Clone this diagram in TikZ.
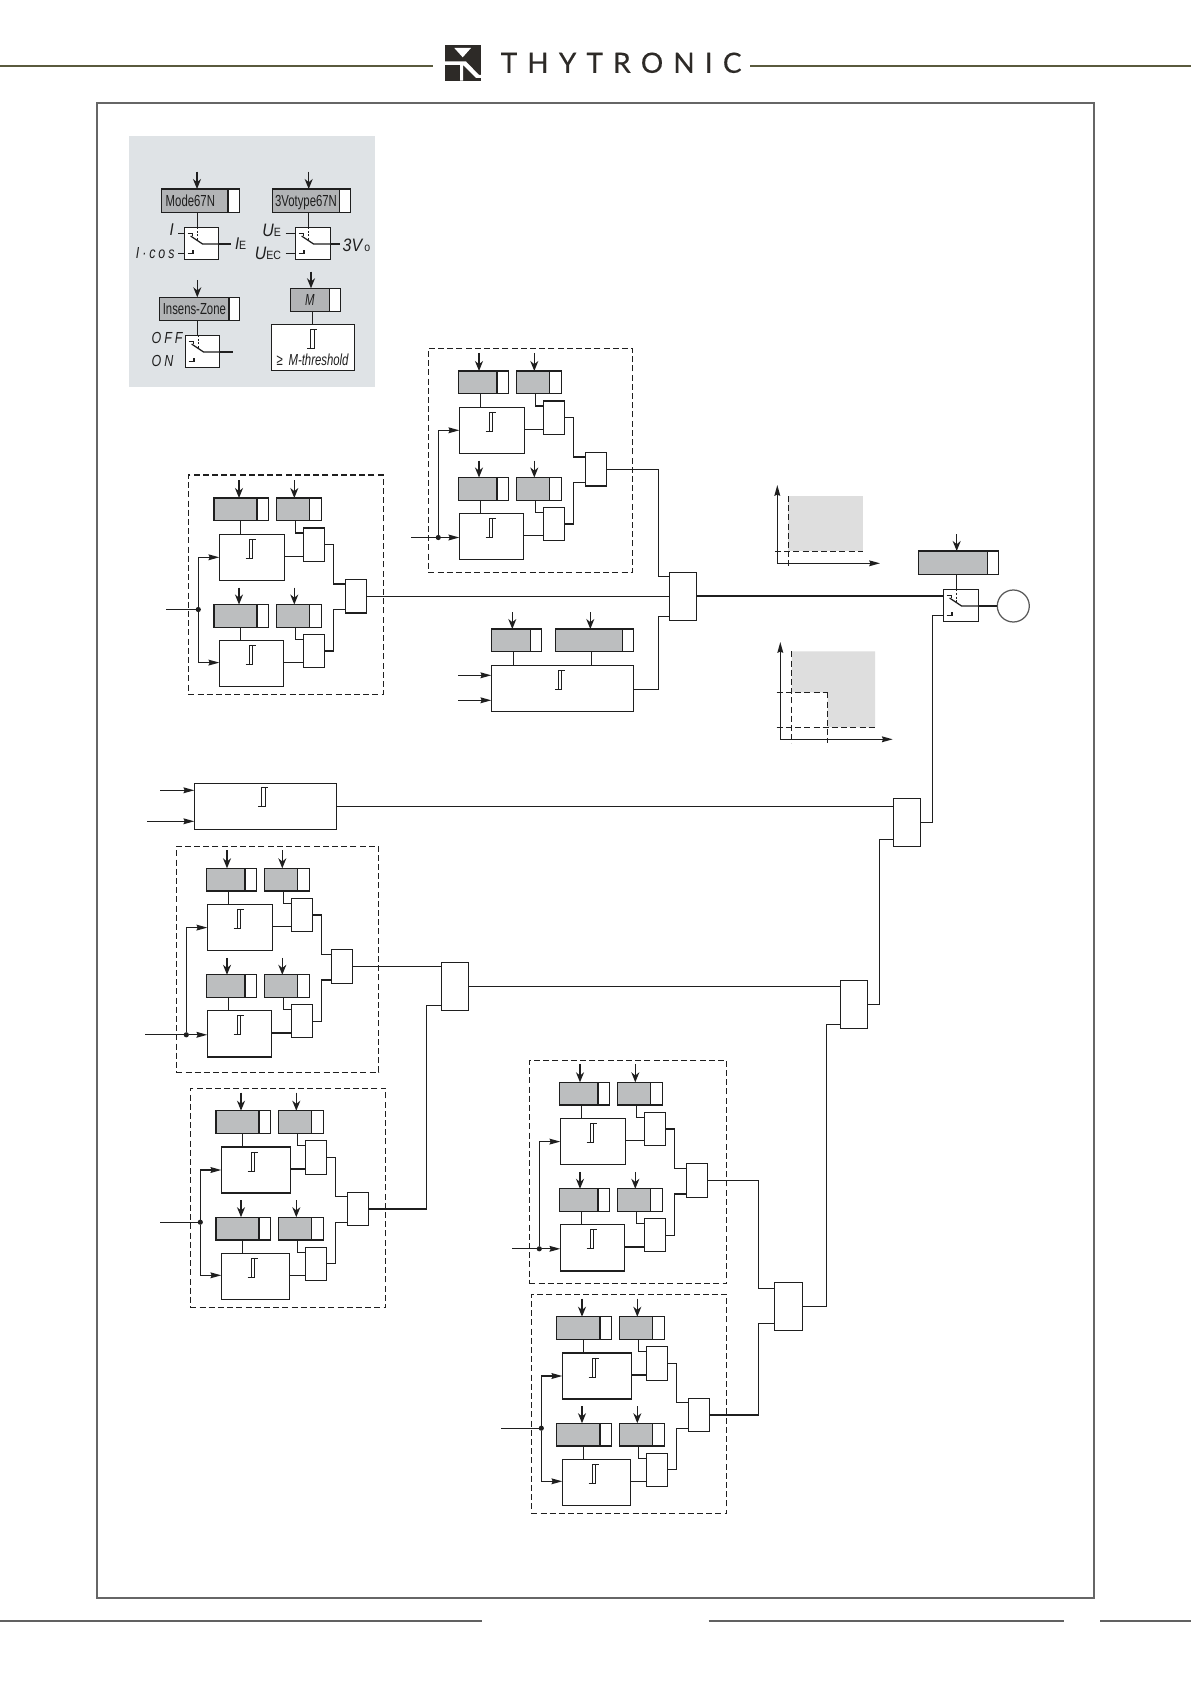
\documentclass[tikz,border=0pt]{standalone}
\usepackage{fontspec}
\setmainfont{Liberation Sans}
\newfontfamily\narrowf[FakeStretch=0.71]{Liberation Sans}
\newfontfamily\spacef[FakeStretch=0.78,LetterSpace=18]{Liberation Sans}
\newfontfamily\tightf[FakeStretch=0.88]{Liberation Sans}
\newfontfamily\logof[FakeBold=0.35]{Lato}
\usetikzlibrary{arrows.meta}
\definecolor{ink}{HTML}{1F1F1F}
\definecolor{setgray}{HTML}{BCBEBF}
\definecolor{leggray}{HTML}{B2B4B6}
\definecolor{headline}{HTML}{5A5A3E}
\tikzset{
  x=0.5pt,y=-0.5pt,
  line/.style={draw=ink,line width=0.62pt},
  wire/.style={line,line join=miter},
  arrv/.style={line,-{Stealth[length=5pt,width=4pt,inset=1.6pt]}},
  arrh/.style={line,-{Stealth[length=5.4pt,width=2.9pt,inset=0.6pt]}},
  blk/.style={line,fill=white,inner sep=0pt,outer sep=0pt,anchor=north west},
  graybox/.style={blk,fill=setgray},
  leggraybox/.style={blk,fill=leggray,text=ink,text height=5.8pt,text depth=0pt,font=\narrowf\fontsize{8}{8}\selectfont},
  dashbox/.style={line,inner sep=0pt,outer sep=0pt,anchor=north west,dash pattern=on 3pt off 1.6pt},
  dashl/.style={line,dash pattern=on 3pt off 1.6pt},
  dot/.style={circle,fill=ink,inner sep=0pt,outer sep=0pt,minimum size=2.6pt},
  lab/.style={inner sep=0pt,outer sep=0pt,text=ink},
  hy/.style={draw=ink,line width=0.42pt},
  frame/.style={draw=black!60,line width=1pt},
  foot/.style={draw=black!62,line width=1pt},
  head/.style={draw=headline,line width=0.55pt}
}
\newcommand{\nbox}[6][blk]{\node[#1,minimum width={(#5-(#3))*0.5pt},minimum height={(#6-(#4))*0.5pt}] (#2) at ({#3},{#4}) {};}
\newcommand{\nboxt}[7][blk]{\node[#1,minimum width={(#5-(#3))*0.5pt},minimum height={(#6-(#4))*0.5pt}] (#2) at ({#3},{#4}) {#7};}
% hysteresis symbol at left/top
\newcommand{\hyst}[2]{\draw[hy] ({#1},{#2+19.3}) -- ++(6.7,0) -- ++(0,-19.3) -- ++(3.3,0) ++(-3.3,0) -- ++(-3.4,0) -- ++(0,19.3);}
% switch box: {name}{x}{y}{w}{h}
\newcommand{\swt}[5]{%
  \nbox{#1}{#2}{#3}{#2+#4}{#3+#5}
  \begin{scope}[shift={(#2,#3)}]
    \draw[line] (3.3,6) -- (8.3,6) -- (8.3,9);
    \draw[line] (6.3,8.7) -- (18.3,16.7) -- (#4,16.7);
    \draw[line] (3.3,26) -- (8.8,26) -- (8.8,22.6);
    \draw[line,dash pattern=on 1pt off 0.8pt] (13,0) -- (13,13);
  \end{scope}}
% module: {prefix}{bx}{y0}{s1 left offset}{block w}{input x}{type}{or offset}
\newcommand{\mdl}[8]{%
  \nbox[graybox]{#1-s1}{#2-#4}{#3}{#2+37.7}{#3+22.8}
  \nbox{#1-s1w}{#2+37.7}{#3}{#2+49.2}{#3+22.8}
  \nbox[graybox]{#1-s2}{#2+57}{#3}{#2+90.3}{#3+22.8}
  \nbox{#1-s2w}{#2+90.3}{#3}{#2+102}{#3+22.8}
  \nbox{#1-b1}{#2}{#3+36.3}{#2+#5}{#3+82.3}
  \nbox{#1-a1}{#2+84}{#3+30}{#2+105.4}{#3+63.5}
  \hyst{#2+26.4}{#3+41.3}
  \nbox[graybox]{#1-s3}{#2-#4}{#3+106.5}{#2+37.7}{#3+129.3}
  \nbox{#1-s3w}{#2+37.7}{#3+106.5}{#2+49.2}{#3+129.3}
  \nbox[graybox]{#1-s4}{#2+57}{#3+106.5}{#2+90.3}{#3+129.3}
  \nbox{#1-s4w}{#2+90.3}{#3+106.5}{#2+102}{#3+129.3}
  \nbox{#1-b2}{#2}{#3+142.5}{#2+#5-1}{#3+188.7}
  \nbox{#1-a2}{#2+84}{#3+136.5}{#2+105.4}{#3+169.5}
  \hyst{#2+26.4}{#3+147.3}
  \nbox{#1-or}{#2+#8}{#3+81.5}{#2+#8+21.4}{#3+115}
  \coordinate (#1-t1) at ({#2+19.7},{#3-18});
  \coordinate (#1-t2) at ({#2+75},{#3-18});
  \coordinate (#1-t3) at ({#2+19.7},{#3+89.5});
  \coordinate (#1-t4) at ({#2+75},{#3+89.5});
  \draw[arrv] (#1-t1) -- (#1-t1 |- #1-s1.north);
  \draw[arrv] (#1-t2) -- (#1-t2 |- #1-s2.north);
  \draw[arrv] (#1-t3) -- (#1-t3 |- #1-s3.north);
  \draw[arrv] (#1-t4) -- (#1-t4 |- #1-s4.north);
  \coordinate (#1-l1) at ({#2+21.4},{#3});
  \coordinate (#1-l2) at ({#2+76},{#3});
  \coordinate (#1-m) at ({#2+114.4},{#3});
  \draw[line] (#1-l1 |- #1-s1.south) -- (#1-l1 |- #1-b1.north);
  \draw[line] (#1-l1 |- #1-s3.south) -- (#1-l1 |- #1-b2.north);
  \draw[wire] (#1-l2 |- #1-s2.south) |- ([yshift=-2.5pt]#1-a1.north west);
  \draw[wire] (#1-l2 |- #1-s4.south) |- ([yshift=-2.5pt]#1-a2.north west);
  \draw[line] ([yshift=0.5pt]#1-b1.east) -- ([yshift=0.5pt]#1-b1.east -| #1-a1.west);
  \draw[line] ([yshift=0.5pt]#1-b2.east) -- ([yshift=0.5pt]#1-b2.east -| #1-a2.west);
  \draw[wire] (#1-a1.east) -| ([yshift=-2.2pt]#1-or.north west -| #1-m) -- ([yshift=-2.2pt]#1-or.north west);
  \draw[wire] (#1-a2.east) -| ([yshift=1.6pt]#1-or.south west -| #1-m) -- ([yshift=1.6pt]#1-or.south west);
  \ifnum#7=1
    \node[dot] (#1-dot) at ({#2-21},{#3+111.5}) {};
    \coordinate (#1-in) at (#6,{#3+111.5});
    \draw[line] (#1-in) -- (#1-dot);
    \draw[arrh] (#1-dot) |- (#1-b1.west);
    \draw[arrh] (#1-dot) |- ([yshift=0.5pt]#1-b2.west);
  \else
    \node[dot] (#1-dot) at ({#2-21},{#3+166.5}) {};
    \coordinate (#1-in) at (#6,{#3+166.5});
    \draw[line] (#1-in) -- (#1-dot);
    \draw[arrh] (#1-dot) |- (#1-b1.west);
    \draw[arrh] (#1-dot) -- (#1-dot -| #1-b2.west);
  \fi}
\begin{document}
\begin{tikzpicture}
\useasboundingbox (0,0) rectangle (1191,1684);
\fill[white] (0,0) rectangle (1191,1684);
% header
\coordinate (hl1) at (0,66); \coordinate (hl2) at (433,66);
\coordinate (hr1) at (750,66); \coordinate (hr2) at (1191,66);
\draw[head] (hl1) -- (hl2);
\draw[head] (hr1) -- (hr2);
\fill[black!90!olive] (445,44.7) rectangle (481,80.7);
\fill[white] (454.3,48) -- (471,48) -- (462.7,57.3) -- cycle;
\fill[white] (445,61.5) -- (466,61.5) -- (479,75) -- (481,75) -- (481,78) -- (476,78) -- (463,65) -- (463,80.7) -- (460,80.7) -- (460,65) -- (445,65) -- cycle;
\node[lab,anchor=west,text=black!90!olive] (brand) at (500.7,62.8) {\logof\fontsize{14}{14}\selectfont\makebox[120.4pt][s]{T\hfill H\hfill Y\hfill T\hfill R\hfill O\hfill N\hfill I\hfill C}};
% frame
\draw[frame] (96.7,103) rectangle (1093.8,1597.5);
% footer
\coordinate (f1) at (0,1620.7); \coordinate (f2) at (482,1620.7);
\coordinate (f3) at (708.7,1620.7); \coordinate (f4) at (1064,1620.7);
\coordinate (f5) at (1100,1620.7); \coordinate (f6) at (1191,1620.7);
\draw[foot] (f1) -- (f2);
\draw[foot] (f3) -- (f4);
\draw[foot] (f5) -- (f6);
% legend panel
\fill[fill={rgb,255:red,223;green,227;blue,230}] (129.3,135.7) rectangle (375,386.7);
% Mode67N
\nboxt[leggraybox]{lm}{161.3}{189}{228}{212.3}{Mode67N\kern4.3pt}
\nbox{lmw}{228}{189}{239.3}{212.3}
\coordinate (lmt) at (197,171.7);
\draw[arrv] (lmt) -- (lmt |- lm.north);
\swt{lms}{184.3}{227.3}{34.3}{32.4}
\draw[line] (197.3,212.3) -- (197.3,227.3);
\coordinate (lmi1) at (178,233.3); \coordinate (lmi2) at (178,253.3); \coordinate (lmo) at (231,244);
\draw[line] (lmi1) -- (lmi1 -| lms.west);
\draw[line] (lmi2) -- (lmi2 -| lms.west);
\draw[line] (lmo -| lms.east) -- (lmo);
\node[lab] (lI) at (171.7,230) {\tightf\itshape\fontsize{8.5}{8}\selectfont I};
\node[lab,anchor=east] (lIc) at (174.5,253.3) {\spacef\itshape\fontsize{8}{8}\selectfont I·cos};
\node[lab,anchor=west] (lIE) at (235,244) {\tightf\fontsize{8.5}{8}\selectfont\textit{I}\fontsize{6}{6}\selectfont E};
% 3Votype67N
\nboxt[leggraybox]{lv}{272.7}{189}{339.3}{212.3}{3Votype67N}
\nbox{lvw}{339.3}{189}{350.7}{212.3}
\coordinate (lvt) at (308.7,171.7);
\draw[arrv] (lvt) -- (lvt |- lv.north);
\swt{lvs}{295.3}{227.3}{35}{32.4}
\draw[line] (308.3,212.3) -- (308.3,227.3);
\coordinate (lvi1) at (285.7,233.3); \coordinate (lvi2) at (285.7,253.3); \coordinate (lvo) at (340,244);
\draw[line] (lvi1) -- (lvi1 -| lvs.west);
\draw[line] (lvi2) -- (lvi2 -| lvs.west);
\draw[line] (lvo -| lvs.east) -- (lvo);
\node[lab,anchor=east] (lUE) at (281,230.7) {\tightf\fontsize{9}{8}\selectfont\textit{U}\fontsize{6}{6}\selectfont E};
\node[lab,anchor=east] (lUEC) at (281,253) {\tightf\fontsize{9}{8}\selectfont\textit{U}\fontsize{6}{6}\selectfont EC};
\node[lab,anchor=west] (lV) at (342.7,245) {\tightf\fontsize{9}{8}\selectfont\textit{3V}\kern0.5pt\fontsize{6}{6}\selectfont o};
% Insens-Zone
\nboxt[leggraybox]{li}{159.7}{297.3}{229}{320.3}{Insens-Zone}
\nbox{liw}{229}{297.3}{239.3}{320.3}
\coordinate (lit) at (197.3,280);
\draw[arrv] (lit) -- (lit |- li.north);
\swt{lis}{185.3}{335.3}{34.3}{32}
\draw[line] (197.3,320.3) -- (197.3,335.3);
\coordinate (lio) at (232.7,352);
\draw[line] (lio -| lis.east) -- (lio);
\node[lab,anchor=west] (lOFF) at (151.7,338.3) {\spacef\itshape\fontsize{8}{8}\selectfont OFF};
\node[lab,anchor=west] (lON) at (151.7,360.7) {\spacef\itshape\fontsize{8}{8}\selectfont ON};
% M
\nboxt[leggraybox]{lM}{290.3}{288.3}{329.3}{311.3}{\itshape M}
\nbox{lMw}{329.3}{288.3}{340.3}{311.3}
\coordinate (lMt) at (311,271.7);
\draw[arrv] (lMt) -- (lMt |- lM.north);
\nbox{lMb}{271.3}{324.3}{354.3}{370.7}
\draw[line] (312.3,311.3) -- (312.3,324.3);
\hyst{307.3}{329.3}
\node[lab] (lMth) at (312.7,360) {\narrowf\fontsize{8}{8}\selectfont ≥ \,\textit{M-threshold}};
% dashed groups
\nbox[dashbox]{dA}{188.3}{475}{383.3}{694.3}
\nbox[dashbox]{dB}{428.3}{348.3}{632.3}{572.3}
\nbox[dashbox]{dE}{176.3}{846.3}{378.7}{1072.3}
\nbox[dashbox]{dF}{190.3}{1088.3}{385.7}{1307.7}
\nbox[dashbox]{dG}{529.3}{1060.3}{726.7}{1283.3}
\nbox[dashbox]{dH}{531.3}{1294.3}{726.7}{1513.3}
% modules
\mdl{A}{219.3}{498}{5.3}{65.4}{166}{1}{126}
\mdl{B}{459.3}{371}{1}{65.4}{411}{2}{126}
\mdl{E}{207.3}{868.3}{1}{65.4}{145}{2}{124}
\mdl{F}{221.3}{1110.7}{5.3}{69.4}{160}{1}{126}
\mdl{G}{560.3}{1082.3}{1}{65.4}{512}{2}{126}
\mdl{H}{562.3}{1316.7}{5.6}{69.4}{501.3}{1}{126}
% single block C
\nbox[graybox]{C-s1}{491.3}{629}{530.3}{651.7}
\nbox{C-s1w}{530.3}{629}{541.7}{651.7}
\nbox[graybox]{C-s2}{555.3}{629}{622.3}{651.7}
\nbox{C-s2w}{622.3}{629}{633.3}{651.7}
\nbox{C-b}{491.3}{665.3}{633.3}{711.3}
\hyst{555}{670}
\coordinate (C-t1) at (512.3,612); \coordinate (C-t2) at (590.3,612);
\draw[arrv] (C-t1) -- (C-t1 |- C-s1.north);
\draw[arrv] (C-t2) -- (C-t2 |- C-s2.north);
\coordinate (C-l1) at (513.3,640); \coordinate (C-l2) at (591.3,640);
\draw[line] (C-l1 |- C-s1.south) -- (C-l1 |- C-b.north);
\draw[line] (C-l2 |- C-s2.south) -- (C-l2 |- C-b.north);
\coordinate (C-i1) at (458.3,675.3); \coordinate (C-i2) at (458.3,700.3);
\draw[arrh] (C-i1) -- (C-i1 -| C-b.west);
\draw[arrh] (C-i2) -- (C-i2 -| C-b.west);
% single block D
\nbox{D-b}{194.3}{783.3}{336.3}{829.3}
\hyst{258.3}{787.5}
\coordinate (D-i1) at (160,790.3); \coordinate (D-i2) at (147.3,821.3);
\draw[arrh] (D-i1) -- (D-i1 -| D-b.west);
\draw[arrh] (D-i2) -- (D-i2 -| D-b.west);
% big gates
\nbox{or1}{669.3}{572.3}{696.7}{620.3}
\nbox{or2}{893.3}{798.3}{920.7}{846.3}
\nbox{or3}{840.3}{980.3}{867.7}{1028.3}
\nbox{or4}{441.3}{962.3}{468.7}{1010.3}
\nbox{or5}{774.3}{1282.3}{802.5}{1330.3}
% output stage
\nbox[graybox]{Z-s}{918.3}{551}{987.3}{574.3}
\nbox{Z-w}{987.3}{551}{998.7}{574.3}
\coordinate (Z-t) at (956.7,534);
\draw[arrv] (Z-t) -- (Z-t |- Z-s.north);
\swt{sw}{943.3}{589.3}{35.4}{32.4}
\draw[line] (956.3,574.3) -- (956.3,589.3);
\node[circle,draw=black!65,line width=0.62pt,minimum size=16pt,inner sep=0pt,outer sep=0pt] (out) at (1013.3,606) {};
\draw[line] (sw.east |- out.west) -- (out.west);
% wiring between groups
\draw[line] (A-or.east) -- (A-or.east -| or1.west);
\draw[wire] (B-or.east) -| ([xshift=-5.5pt,yshift=-2pt]or1.north west) -- ([yshift=-2pt]or1.north west);
\coordinate (C-o) at (633.3,689.3);
\draw[wire] (C-o) -| ([xshift=-5.5pt,yshift=2pt]or1.south west) -- ([yshift=2pt]or1.south west);
\coordinate (sw-i) at (943.3,596);
\draw[line] (or1.east |- sw-i) -- (sw-i);
\draw[line] (D-b.east) -- (D-b.east -| or2.west);
\coordinate (swk) at (932.7,615.3);
\draw[wire] (or2.east) -| (swk) -- (swk -| sw.west);
\draw[line] (E-or.east) -- (E-or.east -| or4.west);
\draw[wire] (F-or.east) -| ([xshift=-7.5pt,yshift=2.5pt]or4.south west) -- ([yshift=2.5pt]or4.south west);
\draw[line] (or4.east) -- (or4.east -| or3.west);
\draw[wire] (or3.east) -| ([xshift=-7pt,yshift=3.5pt]or2.south west) -- ([yshift=3.5pt]or2.south west);
\draw[wire] (G-or.east) -| ([xshift=-8pt,yshift=-3pt]or5.north west) -- ([yshift=-3pt]or5.north west);
\draw[wire] (H-or.east) -| ([xshift=-8pt,yshift=3.5pt]or5.south west) -- ([yshift=3.5pt]or5.south west);
\draw[wire] (or5.east) -| ([xshift=-7pt,yshift=2pt]or3.south west) -- ([yshift=2pt]or3.south west);
% charts
\fill[black!13] (788.3,496) rectangle (863.3,551.3);
\draw[arrh] (777.3,563.3) -- (777.3,485);
\draw[arrh] (777.3,563.3) -- (880,563.3);
\draw[dashl] (788.3,496) -- (788.3,566.7);
\draw[dashl] (775,551.3) -- (863.3,551.3);
\fill[black!13] (791.7,651.3) -- (875,651.3) -- (875,727.3) -- (827.7,727.3) -- (827.7,692.3) -- (791.7,692.3) -- cycle;
\draw[arrh] (780.3,739.3) -- (780.3,642);
\draw[arrh] (780.3,739.3) -- (892.7,739.3);
\draw[dashl] (791.7,651.3) -- (791.7,743.3);
\draw[dashl] (827.7,692.3) -- (827.7,743.3);
\draw[dashl] (776.7,692.3) -- (827.7,692.3);
\draw[dashl] (776.7,727.3) -- (875,727.3);
\end{tikzpicture}
\end{document}
